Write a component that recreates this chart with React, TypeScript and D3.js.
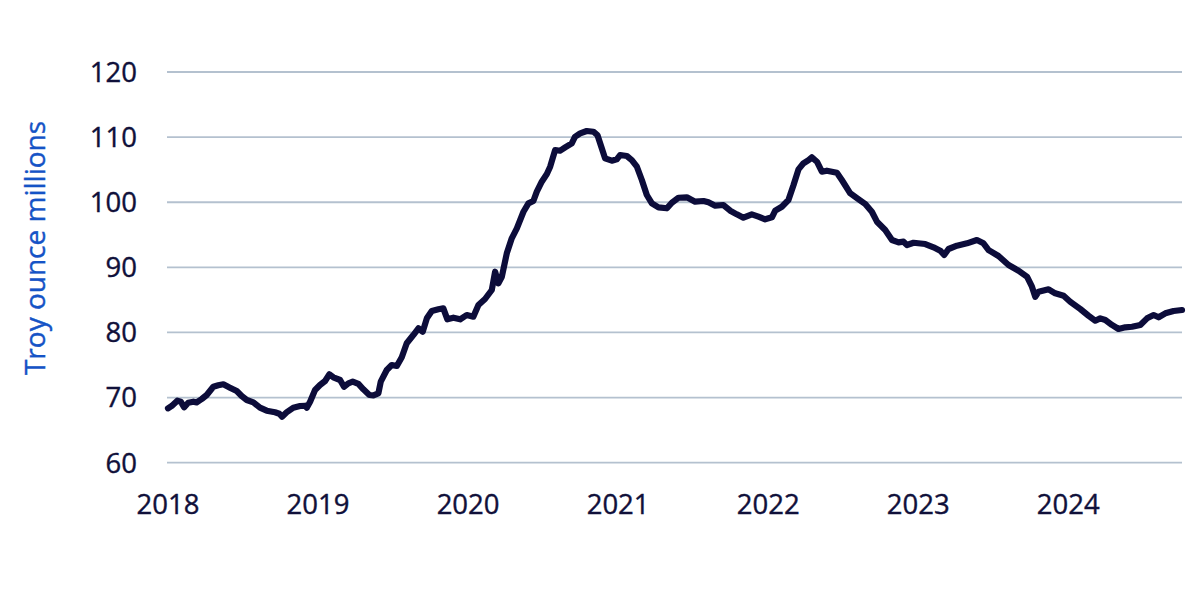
import { useEffect, useRef } from "react";
import * as d3 from "d3";

// 年（小数）と保有量（百万トロイオンス）
const years = [
  2018.0, 2018.025, 2018.062, 2018.085, 2018.107, 2018.135, 2018.169, 2018.191, 2018.225, 2018.258,
  2018.302, 2018.335, 2018.369, 2018.413, 2018.458, 2018.491, 2018.525, 2018.569, 2018.613, 2018.658,
  2018.713, 2018.742, 2018.76, 2018.791, 2018.835, 2018.88, 2018.913, 2018.925, 2018.947, 2018.98,
  2019.013, 2019.047, 2019.075, 2019.102, 2019.147, 2019.173, 2019.202, 2019.231, 2019.269, 2019.302,
  2019.342, 2019.369, 2019.402, 2019.418, 2019.458, 2019.491, 2019.525, 2019.558, 2019.591, 2019.635,
  2019.669, 2019.698, 2019.725, 2019.758, 2019.802, 2019.835, 2019.862, 2019.902, 2019.947, 2019.991,
  2020.035, 2020.069, 2020.113, 2020.158, 2020.18, 2020.202, 2020.225, 2020.258, 2020.291, 2020.325,
  2020.369, 2020.402, 2020.435, 2020.458, 2020.491, 2020.525, 2020.547, 2020.58, 2020.613, 2020.647,
  2020.691, 2020.713, 2020.747, 2020.791, 2020.835, 2020.862, 2020.891, 2020.913, 2020.958, 2020.991,
  2021.013, 2021.058, 2021.091, 2021.125, 2021.158, 2021.191, 2021.225, 2021.269, 2021.325, 2021.358,
  2021.402, 2021.458, 2021.513, 2021.569, 2021.602, 2021.647, 2021.702, 2021.747, 2021.791, 2021.835,
  2021.891, 2021.935, 2021.98, 2022.025, 2022.047, 2022.091, 2022.135, 2022.169, 2022.202, 2022.235,
  2022.269, 2022.291, 2022.325, 2022.358, 2022.391, 2022.458, 2022.491, 2022.547, 2022.602, 2022.647,
  2022.691, 2022.725, 2022.78, 2022.825, 2022.869, 2022.902, 2022.925, 2022.969, 2023.047, 2023.102,
  2023.147, 2023.173, 2023.202, 2023.258, 2023.325, 2023.391, 2023.435, 2023.469, 2023.535, 2023.602,
  2023.669, 2023.725, 2023.758, 2023.78, 2023.802, 2023.869, 2023.913, 2023.969, 2024.013, 2024.08,
  2024.135, 2024.18, 2024.213, 2024.247, 2024.291, 2024.335, 2024.38, 2024.425, 2024.48, 2024.525,
  2024.569, 2024.602, 2024.647, 2024.702, 2024.758,
];

const ounces = [
  68.35, 68.71, 69.52, 69.37, 68.51, 69.21, 69.37, 69.27, 69.78, 70.4,
  71.67, 71.89, 72.04, 71.52, 71.01, 70.24, 69.63, 69.27, 68.45, 67.99,
  67.74, 67.52, 67.06, 67.74, 68.45, 68.71, 68.75, 68.45, 69.37, 71.16,
  71.93, 72.55, 73.57, 73.11, 72.7, 71.67, 72.19, 72.44, 72.09, 71.27,
  70.4, 70.35, 70.66, 72.44, 74.24, 75.0, 74.85, 76.19, 78.34, 79.61,
  80.64, 80.12, 82.17, 83.3, 83.56, 83.71, 82.02, 82.27, 82.02, 82.68,
  82.42, 84.22, 85.14, 86.52, 89.33, 87.55, 88.56, 92.16, 94.46, 95.99,
  98.54, 99.83, 100.19, 101.62, 103.15, 104.33, 105.45, 108.02, 107.91, 108.43,
  109.05, 110.06, 110.58, 110.94, 110.83, 110.32, 108.28, 106.74, 106.38, 106.59,
  107.25, 107.1, 106.48, 105.45, 103.41, 101.11, 99.83, 99.22, 99.07, 99.93,
  100.69, 100.76, 100.08, 100.19, 99.99, 99.47, 99.57, 98.7, 98.14, 97.62,
  98.14, 97.78, 97.38, 97.68, 98.7, 99.31, 100.34, 102.64, 105.05, 105.98,
  106.48, 106.9, 106.22, 104.69, 104.84, 104.53, 103.41, 101.37, 100.45, 99.73,
  98.54, 97.01, 95.73, 94.2, 93.84, 93.94, 93.43, 93.78, 93.58, 93.08,
  92.56, 91.9, 92.82, 93.32, 93.69, 94.2, 93.69, 92.66, 91.74, 90.36,
  89.48, 88.56, 87.03, 85.49, 86.26, 86.63, 86.01, 85.64, 84.72, 83.6,
  82.57, 81.81, 82.17, 81.91, 81.15, 80.53, 80.79, 80.88, 81.15, 82.17,
  82.68, 82.33, 82.94, 83.3, 83.45,
];

const yTicks = [60, 70, 80, 90, 100, 110, 120];
const xTicks = [2018, 2019, 2020, 2021, 2022, 2023, 2024];
const yTitle = "Troy ounce millions";

const W = 1200;
const H = 596;
const FONT = "'Open Sans', 'Noto Sans', sans-serif";

export default function App() {
  const svgRef = useRef<SVGSVGElement>(null);

  useEffect(() => {
    if (!svgRef.current) return;
    const svg = d3.select(svgRef.current);
    svg.selectAll("*").remove();

    const x = d3.scaleLinear().domain([2018, 2024.758]).range([168, 1182]);
    const y = d3.scaleLinear().domain([60, 120]).range([462.7, 72]);

    // グリッド線
    svg
      .append("g")
      .selectAll("line")
      .data(yTicks)
      .join("line")
      .attr("x1", 167)
      .attr("x2", 1182)
      .attr("y1", (d) => y(d))
      .attr("y2", (d) => y(d))
      .attr("stroke", "#b4c1cf")
      .attr("stroke-width", 1.8);

    // Y軸ラベル
    svg
      .append("g")
      .selectAll("text")
      .data(yTicks)
      .join("text")
      .attr("x", 137)
      .attr("y", (d) => y(d))
      .attr("dy", "0.36em")
      .attr("text-anchor", "end")
      .attr("font-family", FONT)
      .attr("font-size", 27.5)
      .attr("fill", "#10103a")
      .attr("stroke", "#10103a")
      .attr("stroke-width", 0.4)
      .text((d) => d);

    // X軸ラベル
    svg
      .append("g")
      .selectAll("text")
      .data(xTicks)
      .join("text")
      .attr("x", (d) => x(d))
      .attr("y", 514)
      .attr("text-anchor", "middle")
      .attr("font-family", FONT)
      .attr("font-size", 27.5)
      .attr("fill", "#10103a")
      .attr("stroke", "#10103a")
      .attr("stroke-width", 0.4)
      .text((d) => d);

    // 軸タイトル
    svg
      .append("text")
      .attr("transform", "translate(45,248) rotate(-90)")
      .attr("text-anchor", "middle")
      .attr("font-family", FONT)
      .attr("font-size", 28)
      .attr("fill", "#1553c6")
      .attr("stroke", "#1553c6")
      .attr("stroke-width", 0.4)
      .text(yTitle);

    const points = years.map((yr, i) => [yr, ounces[i]] as [number, number]);
    const line = d3
      .line<[number, number]>()
      .x((d) => x(d[0]))
      .y((d) => y(d[1]));

    svg
      .append("path")
      .datum(points)
      .attr("fill", "none")
      .attr("stroke", "#0c0c3a")
      .attr("stroke-width", 6.2)
      .attr("stroke-linejoin", "round")
      .attr("stroke-linecap", "round")
      .attr("d", line);
  }, []);

  return (
    <svg
      ref={svgRef}
      width={W}
      height={H}
      style={{ position: "absolute", left: 0, top: 0, background: "#fff" }}
    />
  );
}
